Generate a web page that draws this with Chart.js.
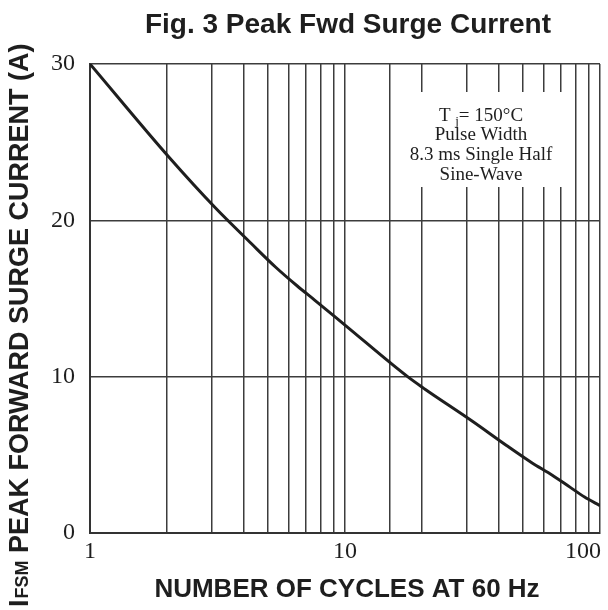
<!DOCTYPE html>
<html>
<head>
<meta charset="utf-8">
<script src="https://cdn.jsdelivr.net/npm/chart.js@4.4.1/dist/chart.umd.min.js"></script>
<style>
  html, body { margin: 0; padding: 0; background: #ffffff; }
  canvas { display: block; }
</style>
</head>
<body>
<canvas id="c" width="608" height="610"></canvas>
<script>
// ---- data ----
const cycles  = [1, 2.05, 3.1, 4.3, 5.35, 6.5, 7.6, 10, 17.6, 20.6, 31.6, 43, 54, 65, 76, 87, 100];
const current = [30, 24.0, 20.8, 18.5, 17.0, 15.8, 14.9, 13.3, 10.0, 9.2, 7.15, 5.6, 4.5, 3.7, 2.95, 2.3, 1.75];
const yTicks  = [0, 10, 20, 30];
const xTickLabels = [1, 10, 100];
const chartTitle = 'Fig. 3 Peak Fwd Surge Current';
const xTitle = 'NUMBER OF CYCLES AT 60 Hz';
const yTitleMain = 'I';
const yTitleSub = 'FSM';
const yTitleRest = ' PEAK FORWARD SURGE CURRENT (A)';
const noteLines = ['= 150\u00B0C', 'Pulse Width', '8.3 ms Single Half', 'Sine-Wave'];

const GRID = '#3c3c3c';
const INK = '#1e1e1e';
const SERIF = '"Liberation Serif", "DejaVu Serif", serif';
const SANS = '"Liberation Sans", Arial, sans-serif';

const decor = {
  id: 'decor',
  beforeDatasetsDraw(chart) {
    const ctx = chart.ctx;
    // white note box that interrupts the grid
    ctx.save();
    ctx.fillStyle = '#ffffff';
    ctx.fillRect(406, 92, 156, 95);
    ctx.restore();
  },
  afterDraw(chart) {
    const ctx = chart.ctx;
    const xs = chart.scales.x;
    ctx.save();
    ctx.fillStyle = INK;

    // chart title
    ctx.font = 'bold 28px ' + SANS;
    ctx.textAlign = 'center';
    ctx.textBaseline = 'alphabetic';
    ctx.fillText(chartTitle, 348, 33);

    // x axis title
    ctx.font = 'bold 26px ' + SANS;
    ctx.fillText(xTitle, 347, 597);

    // x tick labels
    ctx.font = '24px ' + SERIF;
    xTickLabels.forEach(v => {
      const t = String(v);
      const w = ctx.measureText(t).width;
      let px = xs.getPixelForValue(v);
      px = Math.min(px, chart.width - 7 - w / 2);
      ctx.textAlign = 'center';
      ctx.fillText(t, px, 558);
    });

    // y axis title (rotated)
    ctx.save();
    ctx.translate(28, 607);
    ctx.rotate(-Math.PI / 2);
    ctx.textAlign = 'left';
    ctx.font = 'bold 27px ' + SANS;
    ctx.fillText(yTitleMain, 0, 0);
    let off = ctx.measureText(yTitleMain).width + 1;
    ctx.font = 'bold 18px ' + SANS;
    ctx.fillText(yTitleSub, off, 0);
    off += ctx.measureText(yTitleSub).width;
    ctx.font = 'bold 27px ' + SANS;
    ctx.fillText(yTitleRest, off, 0);
    ctx.restore();

    // note text
    ctx.font = '19px ' + SERIF;
    ctx.textAlign = 'left';
    const cx = 481;
    const tW = ctx.measureText('T ').width;
    ctx.font = '13px ' + SERIF;
    const jW = ctx.measureText('j').width;
    ctx.font = '19px ' + SERIF;
    const restW = ctx.measureText(noteLines[0]).width;
    const sx = cx - (tW + jW + restW) / 2;
    ctx.fillText('T ', sx, 121);
    ctx.font = '13px ' + SERIF;
    ctx.fillText('j', sx + tW, 125);
    ctx.font = '19px ' + SERIF;
    ctx.fillText(noteLines[0], sx + tW + jW, 121);
    ctx.textAlign = 'center';
    ctx.fillText(noteLines[1], cx, 140);
    ctx.fillText(noteLines[2], cx, 160);
    ctx.fillText(noteLines[3], cx, 180);
    ctx.restore();
  }
};

new Chart(document.getElementById('c'), {
  type: 'line',
  data: {
    datasets: [{
      data: cycles.map((x, i) => ({ x: x, y: current[i] })),
      borderColor: INK,
      borderWidth: 3,
      pointRadius: 0,
      fill: false,
      cubicInterpolationMode: 'monotone'
    }]
  },
  options: {
    responsive: false,
    animation: false,
    layout: { padding: { top: 64, right: 8, left: 0, bottom: 0 } },
    plugins: { legend: { display: false }, tooltip: { enabled: false }, title: { display: false } },
    scales: {
      x: {
        type: 'logarithmic',
        min: 1,
        max: 100,
        grid: { color: GRID, lineWidth: 1.5, drawTicks: false },
        border: { color: '#333333', width: 2 },
        ticks: { display: false },
        afterFit(s) { s.height = 77; }
      },
      y: {
        type: 'linear',
        min: 0,
        max: 30,
        afterBuildTicks(s) { s.ticks = yTicks.map(v => ({ value: v })); },
        grid: { color: GRID, lineWidth: 1.5, drawTicks: false },
        border: { color: '#333333', width: 2 },
        ticks: { color: INK, padding: 15, font: { family: SERIF, size: 24 } },
        afterFit(s) { s.width = 90; }
      }
    }
  },
  plugins: [decor]
});
</script>
</body>
</html>
